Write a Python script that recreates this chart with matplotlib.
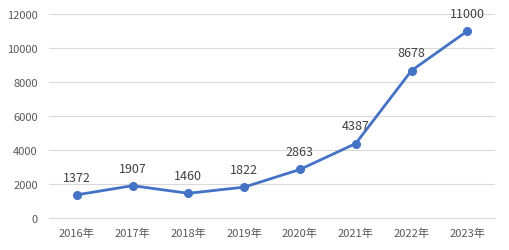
import matplotlib.pyplot as plt

plt.rcParams['font.family'] = ['Noto Sans CJK SC', 'DejaVu Sans']

years = ['2016年', '2017年', '2018年', '2019年', '2020年', '2021年', '2022年', '2023年']
values = [1372, 1907, 1460, 1822, 2863, 4387, 8678, 11000]

fig = plt.figure(figsize=(5.1, 2.51), dpi=100)
ax = fig.add_axes([0.096, 0.127, 0.875, 0.813])

x = range(len(years))
ax.plot(x, values, color='#4472C4', linewidth=2.0, marker='o', markersize=5.5, zorder=3)
for i, v in zip(x, values):
    ax.annotate(str(v), (i, v), xytext=(0, 8), textcoords='offset points',
                ha='center', va='bottom', fontsize=9, color='#404040')

ax.set_xlim(-0.5, len(years) - 0.5)
ax.set_ylim(0, 12000)
ax.set_yticks(range(0, 12001, 2000))
ax.set_xticks(list(x))
ax.set_xticklabels(years)
ax.tick_params(axis='both', length=0, labelsize=8, labelcolor='#595959')
ax.tick_params(axis='x', pad=7)
ax.tick_params(axis='y', pad=8)
ax.grid(axis='y', color='#D9D9D9', linewidth=0.8)
ax.set_axisbelow(True)
for s in ['top', 'right', 'left']:
    ax.spines[s].set_visible(False)
ax.spines['bottom'].set_color('#D9D9D9')

fig.savefig('out.png', dpi=100)
